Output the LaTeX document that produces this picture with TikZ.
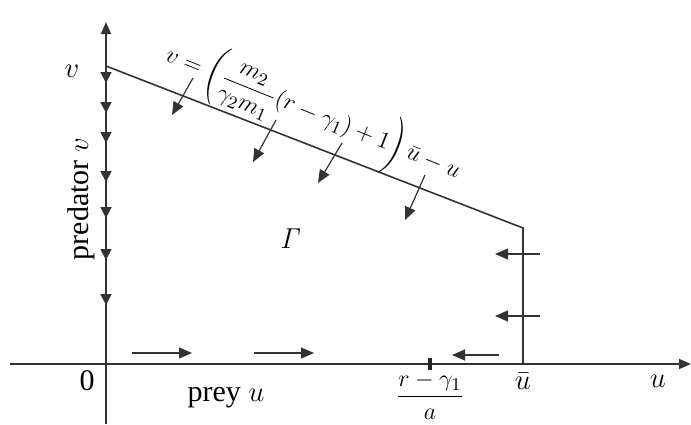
\documentclass[tikz,border=0pt]{standalone}
\usepackage[no-math]{fontspec}
\setmainfont{Liberation Serif}
\usetikzlibrary{arrows.meta}
\begin{document}
\begin{tikzpicture}[x=0.5pt,y=-0.5pt,
  axis/.style={draw=black!80, line width=0.9pt},
  bound/.style={draw=black!80, line width=0.8pt},
  axtip/.style={-{Triangle[length=6pt,width=5pt]}},
  downtip/.style={axis,-{Triangle[length=5.5pt,width=5.5pt]}},
  flow/.style={draw=black!80, line width=0.6pt,-{Triangle[length=6.5pt,width=5.5pt]}},
  lbl/.style={font=\fontsize{15}{18}\selectfont, inner sep=0pt}]
\useasboundingbox (0,0) rectangle (691,424);
% coordinates
\coordinate (O) at (106,364);
\coordinate (xl) at (10,364);
\coordinate (xr) at (691,364);
\coordinate (yb) at (106,424);
\coordinate (yt) at (106,22);
\coordinate (V) at (106,66);
\coordinate (P) at (523,228);
\coordinate (Q) at (523,364);
% axes
\draw[axis,axtip] (xl) -- (xr);
\draw[axis,axtip] (yb) -- (yt);
% boundary
\draw[bound] (V) -- (P) -- (Q);
% tick
\coordinate (t1) at (430,358);
\coordinate (t2) at (430,370);
\draw[line width=1.6pt, black!85] (t1) -- (t2);
% arrows on v axis
\foreach \y in {83,113,143,182,218,260,305}{
  \draw[downtip] (106,\y-12) -- (106,\y);
}
% arrows across the slanted line
\foreach \a/\b/\c/\d in {193/78/172/115, 276/120/253/162, 342/143/318/183, 425/175/405/220}{
  \coordinate (s) at (\a,\b);
  \coordinate (e) at (\c,\d);
  \draw[flow] (s) -- (e);
}
% horizontal arrows
\foreach \a/\b/\c/\d in {540/254/495/254, 540/316/495/316, 499/355/452/355, 132/353/192/353, 254/353/314/353}{
  \coordinate (s) at (\a,\b);
  \coordinate (e) at (\c,\d);
  \draw[flow] (s) -- (e);
}
% labels
\node[lbl] (vlab) at (72,71) {$v$};
\node[lbl] (zero) at (87,381) {0};
\node[lbl,rotate=90] (pred) at (81,199) {predator $v$};
\node[lbl] (prey) at (226,398) {prey $u$};
\node[font=\fontsize{12.5}{15}\selectfont, inner sep=0pt] (frac) at (430,396) {$\displaystyle\frac{r-\gamma_1}{a}$};
\node[lbl] (ubar) at (523,381) {$\bar u$};
\node[lbl] (ulab) at (658,381) {$u$};
\node[lbl] (gam) at (291,239) {$\mathit{\Gamma}$};
\node[font=\fontsize{12.5}{15}\selectfont, rotate=-22, inner sep=0pt] (eq) at (313,114)
  {$v=\left(\displaystyle\frac{m_2}{\gamma_2 m_1}(r-\gamma_1)+1\right)\bar u-u$};
\end{tikzpicture}
\end{document}
